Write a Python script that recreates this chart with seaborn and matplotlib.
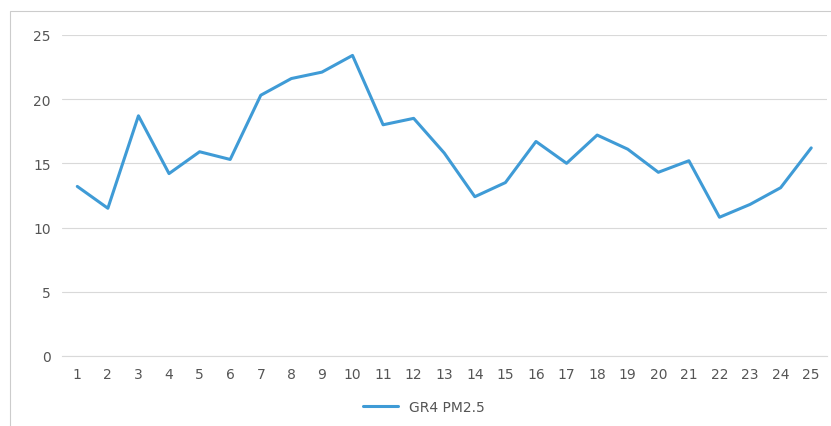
import numpy as np
import pandas as pd
import seaborn as sns
import matplotlib.pyplot as plt
from matplotlib.patches import Rectangle

# data
days = list(range(1, 26))
pm25 = [13.2, 11.5, 18.7, 14.2, 15.9, 15.3, 20.3, 21.6, 22.1, 23.4,
        18.0, 18.5, 15.8, 12.4, 13.5, 16.7, 15.0, 17.2, 16.1, 14.3,
        15.2, 10.8, 11.8, 13.1, 16.2]
series_name = "GR4 PM2.5"

df = pd.DataFrame({"day": days, "value": pm25, "series": series_name})

sns.set_style("white")
plt.rcParams['font.family'] = ['DejaVu Sans']

fig = plt.figure(figsize=(8.31, 4.27), dpi=100)
ax = fig.add_axes([0.0746, 0.164, 0.920, 0.752])

sns.lineplot(data=df, x="day", y="value", hue="series", palette=["#3f9bd6"],
             linewidth=2.2, ax=ax, legend=False)

ax.set_xlim(0.5, 25.5)
ax.set_ylim(0, 25)
ax.set_xticks(days)
ax.set_yticks([0, 5, 10, 15, 20, 25])
ax.set_xlabel("")
ax.set_ylabel("")
ax.tick_params(axis="both", labelsize=10, colors="#555555", length=0, pad=8)
ax.grid(axis="y", color="#d9d9d9", linewidth=0.8)
for side in ["top", "right", "left"]:
    ax.spines[side].set_visible(False)
ax.spines["bottom"].set_color("#d9d9d9")

# legend below the plot
handle = plt.Line2D([], [], color="#3f9bd6", linewidth=2.2)
fig.legend([handle], [series_name], loc="center", bbox_to_anchor=(0.51, 0.045),
           frameon=False, fontsize=10, labelcolor="#555555", handlelength=2.5)

# faint chart-area border
fig.patches.append(Rectangle((0.012, -0.01), 1.0, 0.982, transform=fig.transFigure,
                             fill=False, edgecolor="#cccccc", linewidth=0.8))

fig.savefig("out.png", dpi=100)
